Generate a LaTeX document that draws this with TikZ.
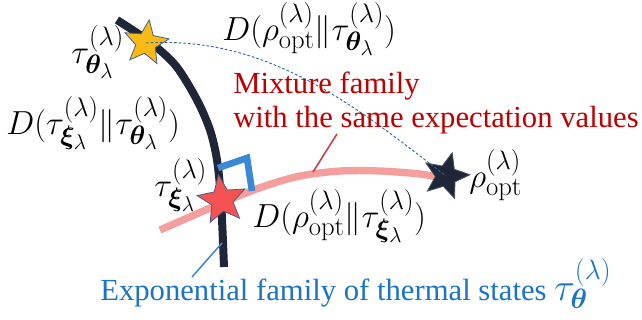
\RequirePackage{fix-cm}
\documentclass[tikz,border=0pt]{standalone}
\usepackage[no-math]{fontspec}
\setmainfont{Liberation Serif}
\usepackage{bm}
\usetikzlibrary{shapes.geometric}
\DeclareMathSizes{25}{25}{20}{16}
\DeclareMathSizes{29}{29}{21}{16}
\definecolor{figMarino}{RGB}{30,38,56}
\definecolor{figRosa}{RGB}{245,158,158}
\definecolor{figAzulMarca}{RGB}{58,136,214}
\definecolor{figRojo}{RGB}{192,0,0}
\definecolor{figRojoLinea}{RGB}{190,70,70}
\definecolor{figAzulTexto}{RGB}{26,115,196}
\definecolor{figAzulLinea}{RGB}{70,140,205}
\definecolor{figGuion}{RGB}{50,100,170}
\definecolor{figAmarillo}{RGB}{250,186,20}
\definecolor{figRojoEstrella}{RGB}{245,82,82}
\definecolor{figBordeEstrella}{RGB}{70,95,140}
\tikzset{
  expo/.style={line width=6pt, draw=figMarino},
  mezcla/.style={line width=5.5pt, draw=figRosa},
  angulo/.style={line width=5pt, draw=figAzulMarca, miter limit=4},
  estrella/.style={
    star, star points=5, star point ratio=2.25, inner sep=0pt, line width=0.6pt
  },
  etiqueta/.style={font=\fontsize{23}{26}\selectfont, inner sep=0pt, anchor=base west},
  formula/.style={etiqueta, font=\fontsize{25}{28}\selectfont},
  guion/.style={dash pattern=on 2pt off 1.5pt, line width=0.7pt, draw=figGuion},
  indicador/.style={line width=1.2pt}
}

\begin{document}
\begin{tikzpicture}[x=0.75pt, y=-0.75pt]
  \useasboundingbox (0,0) rectangle (642,320);

  % Familias
  \draw[expo] plot[smooth] coordinates {(117,20) (150,42) (176,66) (197,100) (210,130) (217,160) (221,200) (224,267)};
  \draw[mezcla] plot[smooth] coordinates {(160,230) (222,203) (262,187) (300,176) (340,171) (380,171) (420,174) (442,178)};
  \draw[angulo] (218,168) -- (247,158) -- (252,191);

  % Estados
  \node[estrella, fill=figAmarillo, draw=figBordeEstrella, minimum size=35pt, rotate=-8] (ytheta) at (146,43) {};
  \node[estrella, fill=figRojoEstrella, draw=figBordeEstrella, minimum size=38pt, rotate=8] (rxi) at (222,200) {};
  \node[estrella, fill=figMarino, draw=figMarino!80!white, minimum size=36pt, rotate=-15] (ropt) at (446,176) {};

  \draw[guion] (ytheta.center) .. controls (270,35) and (360,110) .. (ropt.center);

  % Etiquetas
  \node[formula] (ltheta) at (71,64) {$\tau_{\bm{\theta}_\lambda}^{(\lambda)}$};
  \node[formula] (dopt) at (222,41) {$D(\rho_{\mathrm{opt}}^{(\lambda)}\|\tau_{\bm{\theta}_\lambda}^{(\lambda)})$};
  \node[formula] (dxi) at (6,135) {$D(\tau_{\bm{\xi}_\lambda}^{(\lambda)}\|\tau_{\bm{\theta}_\lambda}^{(\lambda)})$};
  \node[formula] (lxi) at (154,197) {$\tau_{\bm{\xi}_\lambda}^{(\lambda)}$};
  \node[formula] (dxiopt) at (252,228) {$D(\rho_{\mathrm{opt}}^{(\lambda)}\|\tau_{\bm{\xi}_\lambda}^{(\lambda)})$};
  \node[formula] (lopt) at (469,188) {$\rho_{\mathrm{opt}}^{(\lambda)}$};
  \node[etiqueta, text=figRojo, align=left] (mezclaTxt) at (233,128) {Mixture family\\with the same expectation values};
  \node[etiqueta, text=figAzulTexto] (expoTxt) at (100,300) {Exponential family of thermal states {\fontsize{29}{30}\selectfont$\tau_{\bm{\theta}}^{(\lambda)}$}};

  % Indicadores
  \coordinate (mezclaRaiz) at (337,134);
  \coordinate (mezclaPunta) at (313,172);
  \draw[indicador, figRojoLinea] (mezclaRaiz) -- (mezclaPunta);
  \coordinate (expoRaiz) at (192,277);
  \coordinate (expoPunta) at (222,243);
  \draw[indicador, figAzulLinea] (expoRaiz) -- (expoPunta);
\end{tikzpicture}
\end{document}
